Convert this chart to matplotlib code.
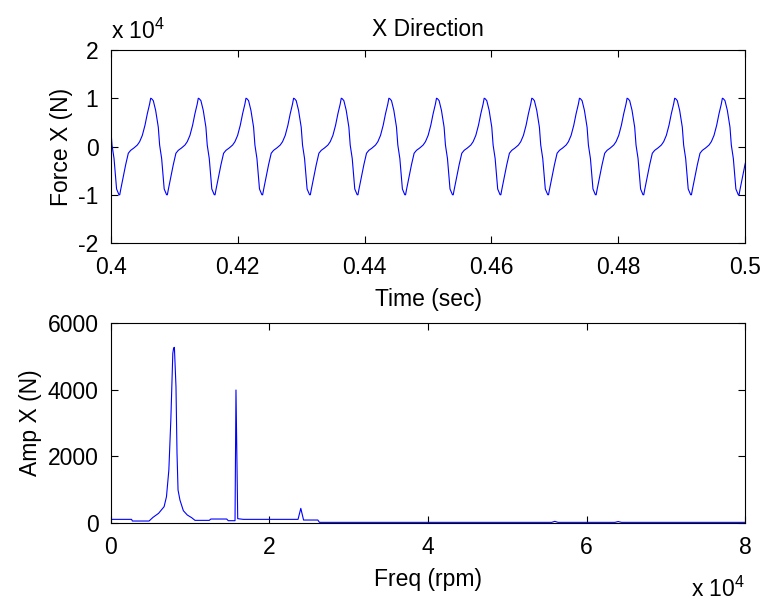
import matplotlib
matplotlib.use("Agg")
import matplotlib.pyplot as plt
import numpy as np

plt.rcParams['font.family'] = ['Liberation Sans', 'DejaVu Sans']
plt.rcParams['mathtext.fontset'] = 'custom'
plt.rcParams['mathtext.rm'] = 'Liberation Sans'

# --- top: force time history (one cycle shape, repeated at each read trough time)
trough_times = [0.39375, 0.40126, 0.40877, 0.41629, 0.42380, 0.43132, 0.43883,
                0.44634, 0.45386, 0.46137, 0.46889, 0.47640, 0.48391, 0.49143, 0.49894]
cycle_ms = [0.0, 0.12, 0.26, 0.63, 1.05, 1.47, 1.84, 2.36, 2.89, 3.26, 3.68, 4.10,
            4.47, 4.83, 5.00, 5.15, 5.41, 5.78, 6.20, 6.41, 6.73, 6.94, 7.13]
cycle_force = [-10000, -10000, -9000, -6600, -3800, -1400, -800, -300, 300, 1000, 2300, 4400,
               6800, 8800, 10000, 9900, 9500, 7500, 4000, 300, -2500, -5900, -8800]

# --- bottom: amplitude spectrum
freq_rpm = [0, 2600, 2700, 4800, 5300, 6000, 6700, 7000, 7300, 7550, 7800, 7900, 8000,
            8200, 8330, 8460, 8700, 9130, 9630, 10180, 10600, 12400, 12600, 14600, 14800,
            15650, 15770, 15990, 16700, 23600, 23950, 24300, 26100, 26300, 55600, 56000,
            56400, 63600, 64000, 64400, 80000]
amp_x = [110, 110, 60, 60, 170, 290, 490, 790, 1590, 3090, 5090, 5250, 5270,
         4090, 2090, 990, 690, 370, 240, 160, 80, 80, 120, 120, 70,
         70, 3990, 130, 110, 110, 440, 90, 90, 20, 20, 50,
         20, 20, 45, 20, 20]

t = np.concatenate([tt + np.array(cycle_ms) / 1000.0 for tt in trough_times])
f = np.concatenate([np.array(cycle_force, dtype=float) for _ in trough_times])

fs = 16.5
fig = plt.figure(figsize=(7.66, 6.05), dpi=100)
ax1 = fig.add_axes([0.1449, 0.5983, 0.8277, 0.3191])
ax2 = fig.add_axes([0.1449, 0.1355, 0.8277, 0.3306])

ax1.plot(t, f, color='blue', lw=0.8)
ax1.set_xlim(0.4, 0.5)
ax1.set_ylim(-20000, 20000)
ax1.set_xticks(np.arange(0.4, 0.501, 0.02))
ax1.set_xticklabels(['0.4', '0.42', '0.44', '0.46', '0.48', '0.5'])
ax1.set_yticks([-20000, -10000, 0, 10000, 20000])
ax1.set_yticklabels(['-2', '-1', '0', '1', '2'])
ax1.set_title('X Direction', fontsize=fs, pad=10)
ax1.set_xlabel('Time (sec)', fontsize=fs, labelpad=7)
ax1.set_ylabel('Force X (N)', fontsize=fs, labelpad=4)
ax1.text(0.0, 1.03, r'x 10$^{4}$', transform=ax1.transAxes, fontsize=fs, ha='left', va='bottom')

ax2.plot(freq_rpm, amp_x, color='blue', lw=0.8)
ax2.set_xlim(0, 80000)
ax2.set_ylim(0, 6000)
ax2.set_xticks([0, 20000, 40000, 60000, 80000])
ax2.set_xticklabels(['0', '2', '4', '6', '8'])
ax2.set_yticks([0, 2000, 4000, 6000])
ax2.set_xlabel('Freq (rpm)', fontsize=fs, labelpad=7)
ax2.set_ylabel('Amp X (N)', fontsize=fs, labelpad=4)
ax2.text(1.0, -0.27, r'x 10$^{4}$', transform=ax2.transAxes, fontsize=fs, ha='right', va='top')

for ax in (ax1, ax2):
    ax.tick_params(direction='in', top=True, right=True, length=5, width=0.8,
                   labelsize=fs)
    ax.tick_params(axis='x', pad=9)
    ax.tick_params(axis='y', pad=9)
    for s in ax.spines.values():
        s.set_linewidth(0.8)

fig.savefig('out.png', dpi=100)
